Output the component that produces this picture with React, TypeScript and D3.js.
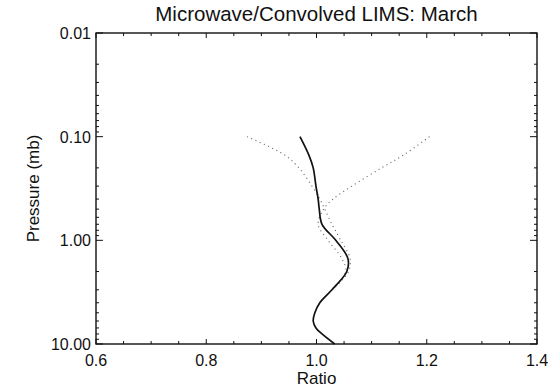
import React, { useEffect, useRef } from "react";
import * as d3 from "d3";

// pressure levels (mb) and ratio profiles
const pressures = [0.1, 0.15, 0.2, 0.3, 0.4, 0.5, 0.7, 1.0, 1.5, 2.0, 3.0, 4.0, 5.0, 6.0, 7.0, 8.0, 10.0];
const ratioMean = [0.97, 0.986, 0.994, 0.999, 1.003, 1.005, 1.01, 1.035, 1.057, 1.055, 1.028, 1.006, 0.997, 0.994, 0.999, 1.01, 1.033];

const dotPressures = [0.1, 0.15, 0.2, 0.3, 0.4, 0.5, 0.7, 1.0, 1.5, 2.0, 3.0];
const ratioLow = [0.874, 0.942, 0.968, 0.992, 1.006, 1.015, 1.028, 1.044, 1.061, 1.058, 1.029];
const ratioHigh = [1.205, 1.158, 1.118, 1.064, 1.03, 1.013, 1.003, 1.021, 1.046, 1.053, 1.027];

const xTicks = [0.6, 0.8, 1.0, 1.2, 1.4];
const yTicks = [0.01, 0.1, 1, 10];
const yTickLabels = ["0.01", "0.10", "1.00", "10.00"];

const W = 555;
const H = 391;
const margin = { left: 96, right: 18, top: 33, bottom: 47 };
const font = "'Liberation Sans', Arial, Helvetica, sans-serif";

export default function App() {
  const svgRef = useRef<SVGSVGElement>(null);

  useEffect(() => {
    const svg = d3.select(svgRef.current);
    svg.selectAll("*").remove();

    const x0 = margin.left;
    const x1 = W - margin.right;
    const y0 = margin.top;
    const y1 = H - margin.bottom;

    const x = d3.scaleLinear().domain([0.6, 1.4]).range([x0, x1]);
    const y = d3.scaleLog().domain([0.01, 10]).range([y0, y1]);

    // frame
    svg
      .append("rect")
      .attr("x", x0)
      .attr("y", y0)
      .attr("width", x1 - x0)
      .attr("height", y1 - y0)
      .attr("fill", "none")
      .attr("stroke", "#111")
      .attr("stroke-width", 1.4);

    const ticks = svg.append("g").attr("stroke", "#111").attr("stroke-width", 1);

    // x ticks (major 0.2, minor 0.05), inward on top and bottom
    const xMinor = d3.range(0.6, 1.4001, 0.05);
    xMinor.forEach(v => {
      const major = xTicks.some(t => Math.abs(t - v) < 1e-6);
      const len = major ? 5 : 3;
      ticks.append("line").attr("x1", x(v)).attr("x2", x(v)).attr("y1", y1).attr("y2", y1 - len);
      ticks.append("line").attr("x1", x(v)).attr("x2", x(v)).attr("y1", y0).attr("y2", y0 + len);
    });

    // y log ticks, inward on left and right
    const yAll: number[] = [];
    [0.01, 0.1, 1].forEach(d => {
      for (let k = 1; k <= 9; k++) yAll.push(d * k);
    });
    yAll.push(10);
    yAll.forEach(v => {
      const major = yTicks.some(t => Math.abs(t - v) / t < 1e-6);
      const len = major ? 7 : 3;
      ticks.append("line").attr("x1", x0).attr("x2", x0 + len).attr("y1", y(v)).attr("y2", y(v));
      ticks.append("line").attr("x1", x1).attr("x2", x1 - len).attr("y1", y(v)).attr("y2", y(v));
    });

    // tick labels
    svg
      .append("g")
      .selectAll("text")
      .data(xTicks)
      .enter()
      .append("text")
      .attr("x", d => x(d))
      .attr("y", y1 + 22)
      .attr("text-anchor", "middle")
      .attr("font-family", font)
      .attr("font-size", 16)
      .attr("fill", "#111")
      .text(d => d.toFixed(1));

    svg
      .append("g")
      .selectAll("text")
      .data(yTicks)
      .enter()
      .append("text")
      .attr("x", x0 - 5)
      .attr("y", d => y(d) + 6)
      .attr("text-anchor", "end")
      .attr("font-family", font)
      .attr("font-size", 16)
      .attr("fill", "#111")
      .text((d, i) => yTickLabels[i]);

    // titles
    svg
      .append("text")
      .attr("x", (x0 + x1) / 2)
      .attr("y", 21)
      .attr("text-anchor", "middle")
      .attr("font-family", font)
      .attr("font-size", 20.5)
      .attr("fill", "#111")
      .text("Microwave/Convolved LIMS: March");

    svg
      .append("text")
      .attr("x", (x0 + x1) / 2)
      .attr("y", 384)
      .attr("text-anchor", "middle")
      .attr("font-family", font)
      .attr("font-size", 17)
      .attr("fill", "#111")
      .text("Ratio");

    svg
      .append("text")
      .attr("transform", `translate(39, ${(y0 + y1) / 2}) rotate(-90)`)
      .attr("text-anchor", "middle")
      .attr("font-family", font)
      .attr("font-size", 17)
      .attr("fill", "#111")
      .text("Pressure (mb)");

    // profiles
    const line = d3
      .line<[number, number]>()
      .x(d => x(d[0]))
      .y(d => y(d[1]))
      .curve(d3.curveCatmullRom.alpha(0.5));

    const dotted = (vals: number[]) => dotPressures.map((p, i) => [vals[i], p] as [number, number]);

    [ratioLow, ratioHigh].forEach(vals => {
      svg
        .append("path")
        .attr("d", line(dotted(vals)))
        .attr("fill", "none")
        .attr("stroke", "#666")
        .attr("stroke-width", 1.1)
        .attr("stroke-dasharray", "1.1,3.5");
    });

    svg
      .append("path")
      .attr("d", line(pressures.map((p, i) => [ratioMean[i], p] as [number, number])))
      .attr("fill", "none")
      .attr("stroke", "#111")
      .attr("stroke-width", 1.7);
  }, []);

  return (
    <svg
      ref={svgRef}
      width={W}
      height={H}
      style={{ display: "block", position: "absolute", left: 0, top: 0 }}
    />
  );
}
